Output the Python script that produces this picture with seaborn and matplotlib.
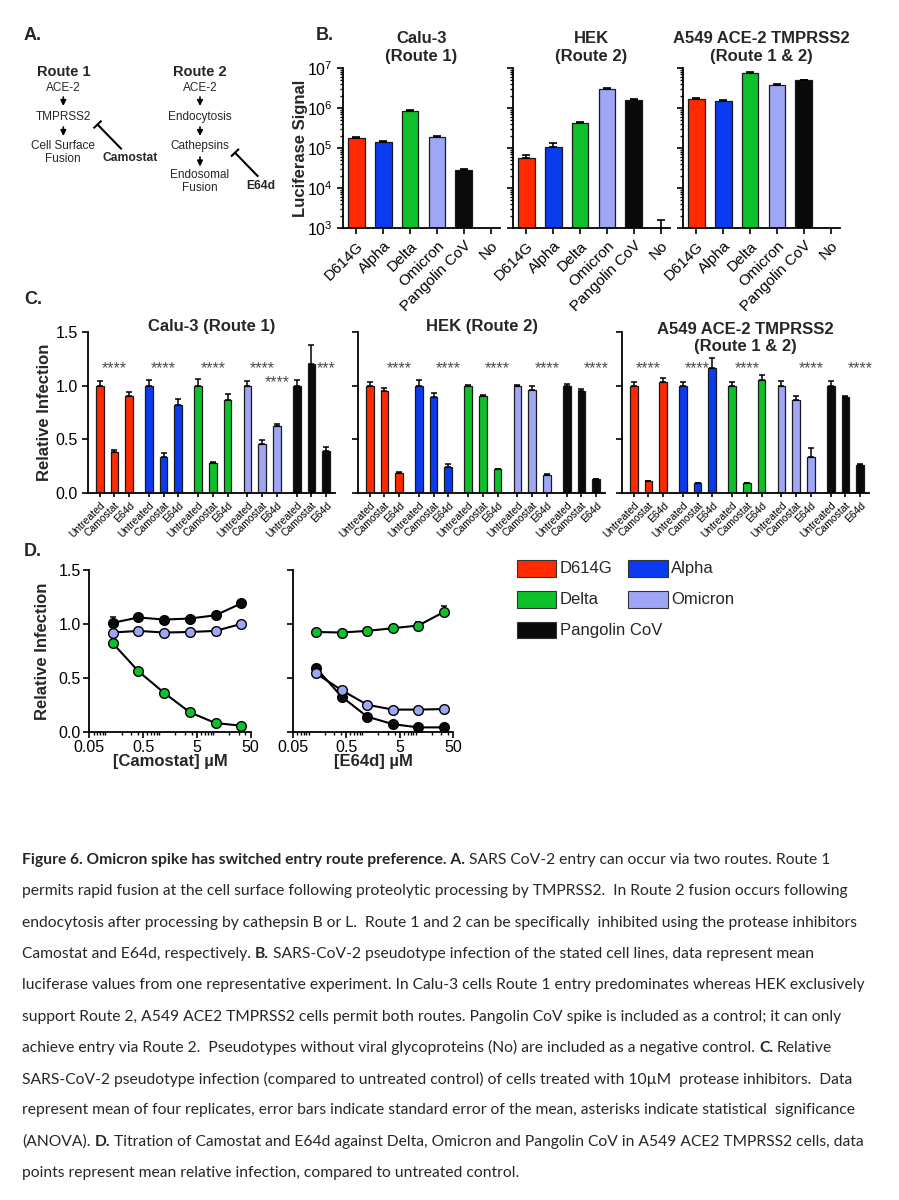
import matplotlib
matplotlib.use("Agg")
import matplotlib.pyplot as plt
from matplotlib.patches import Rectangle
from matplotlib.ticker import LogLocator, NullFormatter, FormatStrFormatter
import numpy as np
import pandas as pd
import seaborn as sns

W, H = 899, 1200

variants = ["D614G", "Alpha", "Delta", "Omicron", "Pangolin CoV"]
variant_colors = ["#ff2a00", "#0b3bf0", "#0ec12b", "#9fa6f5", "#0a0a0a"]
b_labels = variants + ["No"]
treatments = ["Untreated", "Camostat", "E64d"]

# panel B: luciferase signal, mean and upper error
calu3_signal = [1.8e5, 1.4e5, 8.2e5, 1.9e5, 2.8e4, np.nan]
calu3_signal_err = [8e3, 7e3, 4e4, 9e3, 2.5e3, np.nan]
hek_signal = [5.7e4, 1.05e5, 4.2e5, 3.0e6, 1.6e6, 8e2]
hek_signal_err = [1.0e4, 2.5e4, 2.5e4, 1.2e5, 6e4, 8e2]
a549_signal = [1.7e6, 1.5e6, 7.4e6, 3.8e6, 4.8e6, np.nan]
a549_signal_err = [6e4, 5e4, 2.5e5, 1.2e5, 1.5e5, np.nan]
b_titles = ["Calu-3\n(Route 1)", "HEK\n(Route 2)", "A549 ACE-2 TMPRSS2\n(Route 1 & 2)"]

# panel C: relative infection (variant x treatment)
calu3_rel = [1.00, 0.38, 0.90, 1.00, 0.34, 0.82, 1.00, 0.28, 0.87, 1.00, 0.46, 0.62, 1.00, 1.20, 0.39]
calu3_rel_err = [0.04, 0.025, 0.045, 0.05, 0.037, 0.055, 0.06, 0.01, 0.053, 0.045, 0.035, 0.025, 0.055, 0.175, 0.04]
hek_rel = [1.00, 0.95, 0.19, 1.00, 0.89, 0.24, 1.00, 0.90, 0.22, 1.00, 0.96, 0.17, 1.00, 0.95, 0.13]
hek_rel_err = [0.03, 0.03, 0.01, 0.05, 0.045, 0.03, 0.01, 0.01, 0.005, 0.01, 0.037, 0.005, 0.012, 0.022, 0.005]
a549_rel = [1.00, 0.11, 1.03, 1.00, 0.09, 1.16, 1.00, 0.09, 1.05, 1.00, 0.87, 0.34, 1.00, 0.89, 0.26]
a549_rel_err = [0.03, 0.005, 0.045, 0.035, 0.005, 0.095, 0.03, 0.005, 0.047, 0.045, 0.037, 0.08, 0.04, 0.01, 0.012]
calu3_sig_bar = [1, 4, 7, 10, 11, 14]
calu3_sig_text = ["****", "****", "****", "****", "****", "***"]
calu3_sig_level = [1.2, 1.2, 1.2, 1.2, 1.07, 1.2]
hek_sig_bar = [2, 5, 8, 11, 14]
hek_sig_text = ["****"] * 5
hek_sig_level = [1.2] * 5
a549_sig_bar = [1, 4, 7, 11, 14]
a549_sig_text = ["****"] * 5
a549_sig_level = [1.2] * 5
c_titles = ["Calu-3 (Route 1)", "HEK (Route 2)", "A549 ACE-2 TMPRSS2\n(Route 1 & 2)"]

# panel D: titration in A549 ACE2 TMPRSS2
conc = [0.137, 0.41, 1.23, 3.7, 11.1, 33.3]
cam_delta = [0.82, 0.56, 0.36, 0.18, 0.08, 0.056]
cam_omicron = [0.92, 0.935, 0.92, 0.925, 0.935, 1.00]
cam_pangolin = [1.01, 1.06, 1.04, 1.05, 1.08, 1.19]
cam_pangolin_err = [0.05, 0, 0, 0, 0, 0]
e64d_delta = [0.925, 0.92, 0.935, 0.96, 0.985, 1.11]
e64d_delta_err = [0, 0, 0, 0, 0.03, 0.06]
e64d_omicron = [0.54, 0.385, 0.25, 0.205, 0.205, 0.21]
e64d_pangolin = [0.59, 0.325, 0.14, 0.07, 0.04, 0.04]
zeros6 = [0, 0, 0, 0, 0, 0]

caption = [
    [("Figure 6. Omicron spike has switched entry route preference. A.", True),
     ("SARS CoV-2 entry can occur via two routes. Route 1", False)],
    [("permits rapid fusion at the cell surface following proteolytic processing by TMPRSS2.  In Route 2 fusion occurs following", False)],
    [("endocytosis after processing by cathepsin B or L.  Route 1 and 2 can be specifically  inhibited using the protease inhibitors", False)],
    [("Camostat and E64d, respectively.", False), ("B.", True),
     ("SARS-CoV-2 pseudotype infection of the stated cell lines, data represent mean", False)],
    [("luciferase values from one representative experiment. In Calu-3 cells Route 1 entry predominates whereas HEK exclusively", False)],
    [("support Route 2, A549 ACE2 TMPRSS2 cells permit both routes. Pangolin CoV spike is included as a control; it can only", False)],
    [("achieve entry via Route 2.  Pseudotypes without viral glycoproteins (No) are included as a negative control.", False),
     ("C.", True), ("Relative", False)],
    [("SARS-CoV-2 pseudotype infection (compared to untreated control) of cells treated with 10µM  protease inhibitors.  Data", False)],
    [("represent mean of four replicates, error bars indicate standard error of the mean, asterisks indicate statistical  significance", False)],
    [("(ANOVA).", False), ("D.", True),
     ("Titration of Camostat and E64d against Delta, Omicron and Pangolin CoV in A549 ACE2 TMPRSS2 cells, data", False)],
    [("points represent mean relative infection, compared to untreated control.", False)],
]

sns.set_theme(style="ticks", rc={
    "axes.linewidth": 1.3,
    "xtick.major.width": 1.2, "ytick.major.width": 1.2,
    "xtick.minor.width": 1.0, "ytick.minor.width": 1.0,
    "xtick.major.size": 4, "ytick.major.size": 4,
    "xtick.minor.size": 2, "ytick.minor.size": 2,
    "axes.edgecolor": "black", "xtick.color": "black", "ytick.color": "black",
})
plt.rcParams["font.family"] = ["Liberation Sans", "DejaVu Sans"]
plt.rcParams["mathtext.fontset"] = "custom"
plt.rcParams["mathtext.rm"] = "Liberation Sans"

fig = plt.figure(figsize=(W / 100, H / 100), dpi=100)


def px_axes(left, top, width, height):
    return fig.add_axes([left / W, 1 - (top + height) / H, width / W, height / H])


def lum_panel(ax, vals, errs, title, first):
    df = pd.DataFrame({"variant": b_labels, "signal": vals})
    sns.barplot(data=df, x="variant", y="signal", hue="variant", order=b_labels, hue_order=b_labels,
                palette=dict(zip(b_labels, variant_colors + ["white"])), saturation=1, dodge=False,
                width=0.62, edgecolor="#1a1a1a", linewidth=0.9, errorbar=None, legend=False, ax=ax)
    x = np.arange(len(b_labels))
    ax.errorbar(x, vals, yerr=[np.zeros(len(vals)), errs], fmt="none", ecolor="black",
                elinewidth=1.2, capsize=3, capthick=1.2)
    ax.set_yscale("log")
    ax.set_ylim(1e3, 1e7)
    ax.set_xlim(-0.5, 5.35)
    ax.yaxis.set_minor_locator(LogLocator(base=10, subs=np.arange(2, 10), numticks=20))
    ax.yaxis.set_minor_formatter(NullFormatter())
    ax.set_xticks(x)
    ax.set_xticklabels(b_labels, rotation=45, ha="right", rotation_mode="anchor", fontsize=11)
    ax.tick_params(axis="y", labelsize=11.5)
    ax.set_xlabel("")
    ax.set_ylabel("")
    if first:
        ax.set_ylabel("Luciferase Signal", fontsize=12, fontweight="bold", va="center")
        ax.yaxis.set_label_coords(-0.27, 0.5)
    else:
        ax.tick_params(axis="y", labelleft=False)
    ax.set_title(title, fontsize=12, fontweight="bold", pad=5, linespacing=1.2, y=1.0)
    sns.despine(ax=ax)


group_step = 3.36


def rel_panel(ax, vals, errs, sig_bar, sig_text, sig_level, title, first):
    pos = [g * group_step + t for g in range(len(variants)) for t in range(len(treatments))]
    df = pd.DataFrame({"pos": pos, "variant": np.repeat(variants, len(treatments)), "rel": vals})
    sns.barplot(data=df, x="pos", y="rel", hue="variant", hue_order=variants, palette=variant_colors,
                saturation=1, native_scale=True, dodge=False, width=0.52, edgecolor="#1a1a1a",
                linewidth=0.9, errorbar=None, legend=False, ax=ax)
    ax.errorbar(pos, vals, yerr=[np.zeros(len(vals)), errs], fmt="none", ecolor="black",
                elinewidth=1.1, capsize=2.5, capthick=1.1)
    for i, txt, lev in zip(sig_bar, sig_text, sig_level):
        ax.annotate(txt, (pos[i], lev), xytext=(0, -6.5), textcoords="offset points",
                    ha="center", va="baseline", fontsize=11.5, color="#4d4d4d")
    ax.set_xlim(-0.8, 16.05)
    ax.set_ylim(0, 1.5)
    ax.set_yticks([0, 0.5, 1.0, 1.5])
    ax.yaxis.set_major_formatter(FormatStrFormatter("%.1f"))
    ax.set_xticks(pos)
    ax.set_xticklabels(treatments * len(variants), rotation=45, ha="right", rotation_mode="anchor",
                       fontsize=7.5)
    ax.tick_params(axis="x", length=3, pad=2)
    ax.tick_params(axis="y", labelsize=11.5)
    ax.set_xlabel("")
    ax.set_ylabel("")
    if first:
        ax.set_ylabel("Relative Infection", fontsize=12, fontweight="bold", va="center")
        ax.yaxis.set_label_coords(-0.177, 0.5)
    else:
        ax.tick_params(axis="y", labelleft=False)
    if "\n" in title:
        ax.set_title(title, fontsize=12, fontweight="bold", pad=-14, linespacing=1.2, y=1.0)
    else:
        ax.set_title(title, fontsize=12, fontweight="bold", pad=1, y=1.0)
    sns.despine(ax=ax)


def titration_panel(ax, series, xlabel, first):
    for name, vals, errs in series:
        c = variant_colors[variants.index(name)]
        ax.errorbar(conc, vals, yerr=[zeros6, errs], fmt="none", ecolor="black",
                    elinewidth=1.1, capsize=2.5, capthick=1.1, zorder=1)
        sns.lineplot(x=conc, y=vals, color="black", linewidth=1.5, marker="o", markersize=7,
                     markerfacecolor=c, markeredgecolor="black", markeredgewidth=1.0, ax=ax)
    ax.set_xscale("log")
    ax.set_xlim(0.05, 50)
    ax.set_xticks([0.05, 0.5, 5, 50])
    ax.set_xticklabels(["0.05", "0.5", "5", "50"])
    ax.xaxis.set_minor_locator(LogLocator(base=10, subs=np.arange(1, 10), numticks=20))
    ax.xaxis.set_minor_formatter(NullFormatter())
    ax.set_ylim(0, 1.5)
    ax.set_yticks([0, 0.5, 1.0, 1.5])
    ax.yaxis.set_major_formatter(FormatStrFormatter("%.1f"))
    ax.tick_params(labelsize=11.5, pad=2)
    ax.set_xlabel(xlabel, fontsize=12, fontweight="bold", va="center")
    ax.xaxis.set_label_coords(0.5, -0.186)
    ax.set_ylabel("")
    if first:
        ax.set_ylabel("Relative Infection", fontsize=12, fontweight="bold", va="center")
        ax.yaxis.set_label_coords(-0.287, 0.5)
    else:
        ax.tick_params(axis="y", labelleft=False)
    sns.despine(ax=ax)


# ---- panel B
b_data = [(calu3_signal, calu3_signal_err), (hek_signal, hek_signal_err), (a549_signal, a549_signal_err)]
for k, (left, (vals, errs)) in enumerate(zip([343, 513, 683], b_data)):
    ax = px_axes(left, 67.7, 157, 160.6)
    lum_panel(ax, vals, errs, b_titles[k], k == 0)

# ---- panel C
c_data = [(calu3_rel, calu3_rel_err, calu3_sig_bar, calu3_sig_text, calu3_sig_level),
          (hek_rel, hek_rel_err, hek_sig_bar, hek_sig_text, hek_sig_level),
          (a549_rel, a549_rel_err, a549_sig_bar, a549_sig_text, a549_sig_level)]
for k, (left, d) in enumerate(zip([88, 358, 622], c_data)):
    ax = px_axes(left, 332, 247, 161)
    rel_panel(ax, *d, c_titles[k], k == 0)

# ---- panel D
ax = px_axes(89.3, 570, 161.4, 161.7)
titration_panel(ax, [("Delta", cam_delta, zeros6), ("Omicron", cam_omicron, zeros6),
                     ("Pangolin CoV", cam_pangolin, cam_pangolin_err)], "[Camostat] µM", True)
ax = px_axes(292.7, 570, 160.6, 161.7)
titration_panel(ax, [("Delta", e64d_delta, e64d_delta_err), ("Pangolin CoV", e64d_pangolin, zeros6),
                     ("Omicron", e64d_omicron, zeros6)], "[E64d] µM", False)

# ---- overlay: panel A diagram, letters, legend, caption
ov = fig.add_axes([0, 0, 1, 1])
ov.set_xlim(0, W)
ov.set_ylim(H, 0)
ov.axis("off")

for letter, lx, ly in [("A.", 32.5, 35.5), ("B.", 325, 35), ("C.", 33, 300), ("D.", 33, 551)]:
    ov.text(lx, ly, letter, fontsize=13, fontweight="bold", ha="center", va="center")

route_steps = [
    (63.3, "Route 1", [("ACE-2", 88.3), ("TMPRSS2", 116.7), ("Cell Surface", 146), ("Fusion", 159.3)],
     [(97, 106), (127, 136)]),
    (200, "Route 2", [("ACE-2", 88.3), ("Endocytosis", 116.7), ("Cathepsins", 146), ("Endosomal", 175),
                      ("Fusion", 188.3)], [(97, 106), (127, 136), (157, 166.5)]),
]
for cx, head, steps, arrows in route_steps:
    ov.text(cx, 72.3, head, fontsize=10.5, fontweight="bold", ha="center", va="center")
    for s, sy in steps:
        ov.text(cx, sy, s, fontsize=8.5, ha="center", va="center")
    for y1, y2 in arrows:
        ov.annotate("", xy=(cx, y2), xytext=(cx, y1),
                    arrowprops=dict(arrowstyle="-|>", color="black", lw=1.2, mutation_scale=8,
                                    shrinkA=0, shrinkB=0))

for name, nx, ny, (x1, y1), (x2, y2) in [("Camostat", 130, 158.3, (121.7, 149.3), (97.5, 124.5)),
                                         ("E64d", 260.7, 185.7, (258.3, 176.7), (235, 152.7))]:
    ov.text(nx, ny, name, fontsize=8.7, fontweight="bold", ha="center", va="center")
    ov.plot([x1, x2], [y1, y2], color="black", lw=1.5, solid_capstyle="butt")
    d = np.array([x2 - x1, y2 - y1])
    d = d / np.hypot(*d)
    p = np.array([-d[1], d[0]]) * 5.5
    ov.plot([x2 - p[0], x2 + p[0]], [y2 - p[1], y2 + p[1]], color="black", lw=1.5, solid_capstyle="butt")

legend_cells = [(0, 0), (1, 0), (0, 1), (1, 1), (0, 2)]
for (col, row), name, c in zip(legend_cells, variants, variant_colors):
    x0 = [516.7, 628][col]
    y0 = 568.3 + row * 30.9
    ov.add_patch(Rectangle((x0, y0 - 8.3), 39.5, 16.6, facecolor=c, edgecolor="#333333", lw=0.8))
    ov.text(x0 + 43, y0, name, fontsize=12, ha="left", va="center")

renderer = fig.canvas.get_renderer()
cap_font = ["Lato", "DejaVu Sans"]


def draw_caption_line(x, y, segs, size, space):
    arts = []
    for txt, bold in segs:
        t = ov.text(x, y, txt, fontsize=size, fontweight="bold" if bold else "normal",
                    family=cap_font, ha="left", va="center")
        arts.append(t)
        x += t.get_window_extent(renderer).width + space
    return x - space, arts


def space_width(size):
    a = ov.text(0, 0, "x x", fontsize=size, family=cap_font)
    b = ov.text(0, 0, "xx", fontsize=size, family=cap_font)
    w = a.get_window_extent(renderer).width - b.get_window_extent(renderer).width
    a.remove()
    b.remove()
    return w


base = 10
end, tmp = draw_caption_line(22, 860, caption[0], base, space_width(base))
for t in tmp:
    t.remove()
cap_size = base * (834 - 22) / (end - 22)
sp = space_width(cap_size)
for i, segs in enumerate(caption):
    draw_caption_line(22, 860 + i * 31.3, segs, cap_size, sp)

fig.savefig("out.png", dpi=100)
